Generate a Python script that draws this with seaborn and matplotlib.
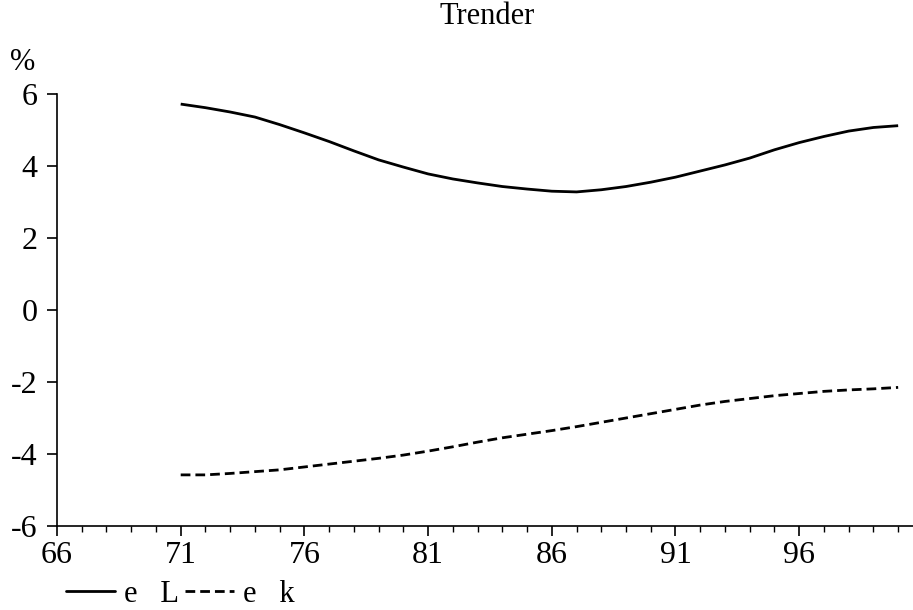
import pandas as pd
import seaborn as sns
import matplotlib.pyplot as plt
from matplotlib.ticker import MultipleLocator

years = list(range(71, 101))
e_L = [5.72, 5.62, 5.50, 5.36, 5.15, 4.92, 4.68, 4.42, 4.17, 3.97,
       3.78, 3.64, 3.53, 3.43, 3.36, 3.30, 3.28, 3.34, 3.43, 3.55,
       3.69, 3.86, 4.03, 4.22, 4.45, 4.65, 4.82, 4.97, 5.07, 5.12]
e_k = [-4.58, -4.58, -4.54, -4.49, -4.44, -4.36, -4.28, -4.20, -4.12, -4.03,
       -3.92, -3.80, -3.67, -3.55, -3.45, -3.35, -3.24, -3.12, -3.00, -2.88,
       -2.76, -2.64, -2.54, -2.46, -2.38, -2.32, -2.26, -2.22, -2.19, -2.15]
series_labels = ["e   L", "e   k"]
x_ticks = [66, 71, 76, 81, 86, 91, 96]
y_ticks = [-6, -4, -2, 0, 2, 4, 6]

df = pd.DataFrame({
    "year": years * 2,
    "value": e_L + e_k,
    "serie": [series_labels[0]] * len(years) + [series_labels[1]] * len(years),
})

sns.set_style("white")
plt.rcParams["font.family"] = ["Liberation Serif", "DejaVu Serif"]
plt.rcParams["axes.unicode_minus"] = False
plt.rcParams["text.color"] = "black"

fig = plt.figure(figsize=(9.13, 6.10), dpi=100)
ax = fig.add_axes([57 / 913, 1 - 526 / 610, 1 - 57 / 913, (526 - 94) / 610])

sns.lineplot(data=df, x="year", y="value", hue="serie", style="serie",
             palette=["black", "black"], dashes=[(1, 0), (3.5, 1.8)],
             linewidth=2.0, ax=ax, legend=False)

ax.set_xlim(66, 100.6)
ax.set_ylim(-6, 6)
ax.set_xticks(x_ticks)
ax.set_yticks(y_ticks)
ax.xaxis.set_minor_locator(MultipleLocator(1))
ax.set_xlabel("")
ax.set_ylabel("")
for s in ["top", "right"]:
    ax.spines[s].set_visible(False)
for s in ["left", "bottom"]:
    ax.spines[s].set_color("black")
    ax.spines[s].set_linewidth(1.2)
ax.tick_params(axis="both", which="major", direction="out", length=7, width=1.2,
               labelsize=23, colors="black")
ax.tick_params(axis="x", which="major", pad=4)
ax.tick_params(axis="y", which="major", pad=7)
ax.tick_params(axis="x", which="minor", direction="out", length=4.5, width=1.0,
               colors="black", bottom=True)
ax.tick_params(axis="y", left=True)
ax.tick_params(axis="x", bottom=True)

fig.text(487 / 913, 1 - 16 / 610, "Trender", ha="center", va="center", fontsize=22)
fig.text(23 / 913, 1 - 62 / 610, "%", ha="center", va="center", fontsize=22)

handles = [plt.Line2D([], [], color="black", linewidth=2.0),
           plt.Line2D([], [], color="black", linewidth=2.0, dashes=(3.5, 1.8))]
fig.legend(handles, series_labels, loc="center left",
           bbox_to_anchor=(66 / 913, 1 - 594 / 610), ncol=2, frameon=False,
           fontsize=22, handlelength=1.6, handletextpad=0.3, columnspacing=0.2,
           borderaxespad=0, borderpad=0)

fig.savefig("out.png", dpi=100)
